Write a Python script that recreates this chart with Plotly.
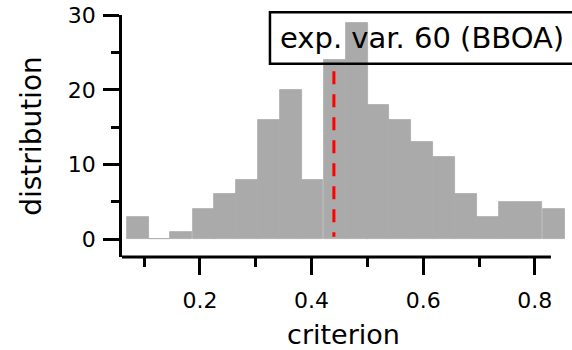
import plotly.graph_objects as go

# ---- data ----
bin_left = [0.069, 0.108, 0.147, 0.187, 0.226, 0.265, 0.304, 0.343, 0.382, 0.422,
            0.461, 0.500, 0.539, 0.578, 0.618, 0.657, 0.696, 0.735, 0.774, 0.814]
bin_width = 0.0392
counts = [3, 0, 1, 4, 6, 8, 16, 20, 8, 24, 29, 18, 16, 13, 11, 6, 3, 5, 5, 4]
exp_var_criterion = 0.44
legend_label = "exp. var. 60 (BBOA)"
x_ticks = [0.2, 0.4, 0.6, 0.8]
x_tick_text = ["0.2", "0.4", "0.6", "0.8"]
y_ticks = [0, 10, 20, 30]
y_tick_text = ["0", "10", "20", "30"]

FONT = "DejaVu Sans"
bin_centers = [b + bin_width / 2 for b in bin_left]

fig = go.Figure()
fig.add_trace(go.Bar(
    x=bin_centers, y=counts, width=[bin_width] * len(counts),
    marker=dict(color="#aaaaaa", line=dict(width=0.8, color="#aaaaaa")),
    showlegend=False, hoverinfo="skip",
))

x_range = [0.0604, 0.854]
y_range = [-2.37, 30.02]

fig.update_layout(
    width=572, height=350,
    margin=dict(l=122, r=7, t=15, b=93),
    paper_bgcolor="white", plot_bgcolor="white",
    bargap=0,
    font=dict(family=FONT, color="black"),
    xaxis=dict(
        range=x_range, showgrid=False, zeroline=False, showline=False, automargin=False,
        tickmode="array", tickvals=x_ticks, ticktext=x_tick_text,
        ticks="outside", ticklen=17, tickwidth=2.5, tickcolor="black",
        ticklabelstandoff=7, ticklabeloverflow="allow",
        minor=dict(dtick=0.1, tick0=0, ticks="outside", ticklen=9, tickwidth=2.5, tickcolor="black"),
        tickfont=dict(family=FONT, size=22, color="black"),
        title=dict(text="criterion", font=dict(family=FONT, size=27, color="black"), standoff=14),
    ),
    yaxis=dict(
        range=y_range, showgrid=False, zeroline=False, automargin=False,
        showline=True, linewidth=2.5, linecolor="black",
        tickmode="array", tickvals=y_ticks, ticktext=y_tick_text,
        ticks="outside", ticklen=16, tickwidth=2.5, tickcolor="black",
        ticklabelstandoff=3, ticklabeloverflow="allow",
        minor=dict(dtick=5, tick0=0, ticks="outside", ticklen=8, tickwidth=2.5, tickcolor="black"),
        tickfont=dict(family=FONT, size=22, color="black"),
        title=dict(text="distribution", font=dict(family=FONT, size=28, color="black"), standoff=19),
    ),
)

# x axis line (ends short of the bars, as in the reference)
fig.add_shape(type="line", xref="x", yref="paper", x0=x_range[0], x1=0.8288, y0=0, y1=0,
              line=dict(color="black", width=3), layer="above")

# red dashed marker line
fig.add_shape(type="line", xref="x", yref="y", x0=exp_var_criterion, x1=exp_var_criterion,
              y0=22.5, y1=0.35, line=dict(color="#ff0000", width=3, dash="13px,10px"), layer="above")

# legend box
fig.add_shape(type="rect", xref="paper", yref="paper", x0=0.334, x1=1.05, y0=0.799, y1=1.011,
              line=dict(color="black", width=2.5), fillcolor="rgba(0,0,0,0)", layer="above")
fig.add_annotation(xref="paper", yref="paper", x=0.352, y=0.905, xanchor="left", yanchor="middle",
                   text=legend_label, showarrow=False,
                   font=dict(family=FONT, size=29, color="black"))

fig.write_html("out.html", config={"displayModeBar": False},
               post_script="document.body.style.margin='0px';")
